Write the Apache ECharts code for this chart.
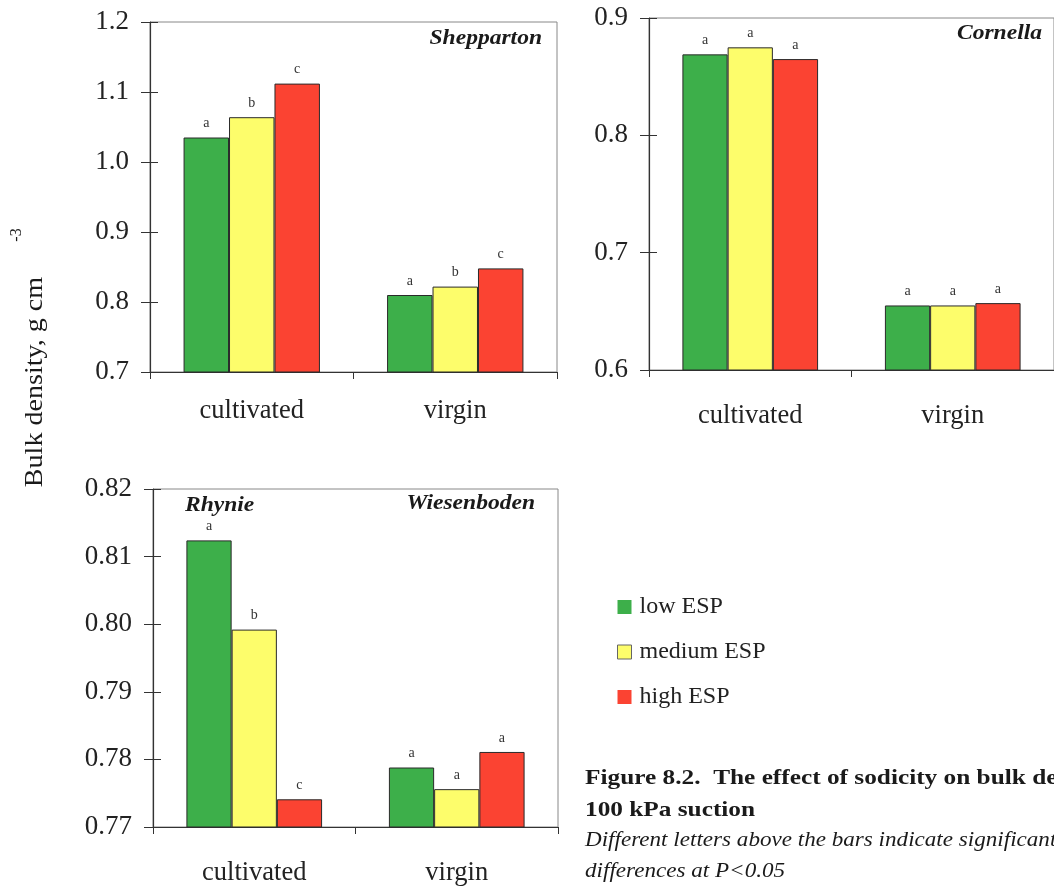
<!DOCTYPE html>
<html>
<head>
<meta charset="utf-8">
<script src="https://cdn.jsdelivr.net/npm/echarts@6/dist/echarts.min.js"></script>
<style>
html,body{margin:0;padding:0;background:#fff;}
#chart{width:1054px;height:890px;}
</style>
</head>
<body>
<div id="chart"></div>
<script>
// ---- data ----
var categories = ['cultivated', 'virgin'];
var seriesNames = ['low ESP', 'medium ESP', 'high ESP'];

var shepLow = [1.035, 0.810];
var shepMed = [1.064, 0.822];
var shepHigh = [1.112, 0.848];
var shepLetters = [['a', 'a'], ['b', 'b'], ['c', 'c']];

var cornLow = [0.869, 0.655];
var cornMed = [0.875, 0.655];
var cornHigh = [0.865, 0.657];
var cornLetters = [['a', 'a'], ['a', 'a'], ['a', 'a']];

var rhyLow = [0.8124, 0.7788];
var rhyMed = [0.7992, 0.7756];
var rhyHigh = [0.7741, 0.7811];
var rhyLetters = [['a', 'a'], ['b', 'a'], ['c', 'a']];

var shepTicks = {min: 0.7, max: 1.2, interval: 0.1, decimals: 1};
var cornTicks = {min: 0.6, max: 0.9, interval: 0.1, decimals: 1};
var rhyTicks = {min: 0.77, max: 0.82, interval: 0.01, decimals: 2};

// ---- styling ----
var SERIF = "'Liberation Serif','Times New Roman',serif";
var colors = ['#3daf4a', '#fdfd6b', '#fb4332'];
var AX = '#333';

var grids = [
  {left: 150, top: 22, width: 407, height: 350},
  {left: 649, top: 18, width: 408, height: 352},
  {left: 153, top: 489, width: 405, height: 338}
];
grids.forEach(function (g) {
  g.show = true; g.borderColor = '#888'; g.borderWidth = 1; g.backgroundColor = 'transparent';
});

var xMargins = [26, 33, 33];
var xAxes = grids.map(function (g, i) {
  return {
    type: 'category', gridIndex: i, data: categories,
    axisLine: {lineStyle: {color: AX, width: 1.2}},
    axisTick: {show: true, length: 7, lineStyle: {color: AX}},
    axisLabel: {fontFamily: SERIF, fontSize: 26.5, color: '#222', margin: xMargins[i]}
  };
});

var yAxes = [];
[shepTicks, cornTicks, rhyTicks].forEach(function (t, i) {
  yAxes.push({
    type: 'value', gridIndex: i, position: 'left', min: t.min, max: t.max, interval: t.interval,
    axisLine: {show: true, lineStyle: {color: AX, width: 1.2}},
    axisTick: {show: true, length: 9, lineStyle: {color: AX}},
    splitLine: {show: false},
    axisLabel: {fontFamily: SERIF, fontSize: 27, color: '#222', margin: 21,
      formatter: function (v) { return v.toFixed(t.decimals); }}
  });
  yAxes.push({
    type: 'value', gridIndex: i, position: 'left', min: t.min, max: t.max, interval: t.interval,
    axisLine: {show: false},
    axisTick: {show: true, inside: true, length: 8, lineStyle: {color: AX}},
    splitLine: {show: false},
    axisLabel: {show: false}
  });
});

function makeSeries(gi, data, letters, si) {
  return {
    type: 'bar', name: seriesNames[si], xAxisIndex: gi, yAxisIndex: gi * 2,
    data: data, barGap: '0%', barCategoryGap: '33%',
    itemStyle: {color: colors[si], borderColor: '#2a2a2a', borderWidth: 1},
    label: {
      show: true, position: 'top', distance: 7,
      fontFamily: SERIF, fontSize: 14, color: '#333',
      formatter: function (p) { return letters[si][p.dataIndex]; }
    }
  };
}

var series = [
  makeSeries(0, shepLow, shepLetters, 0),
  makeSeries(0, shepMed, shepLetters, 1),
  makeSeries(0, shepHigh, shepLetters, 2),
  makeSeries(1, cornLow, cornLetters, 0),
  makeSeries(1, cornMed, cornLetters, 1),
  makeSeries(1, cornHigh, cornLetters, 2),
  makeSeries(2, rhyLow, rhyLetters, 0),
  makeSeries(2, rhyMed, rhyLetters, 1),
  makeSeries(2, rhyHigh, rhyLetters, 2)
];

function txt(x, y, text, style, extra) {
  var o = {type: 'text', x: x, y: y, style: Object.assign({
    text: text, fontFamily: SERIF, fill: '#1a1a1a', verticalAlign: 'middle'
  }, style)};
  return Object.assign(o, extra || {});
}

var titleStyle = {fontSize: 22, fontWeight: 'bold', fontStyle: 'italic'};
var titleScale = {scaleX: 1.07};

var graphics = [
  txt(542, 38, 'Shepparton', Object.assign({align: 'right'}, titleStyle), titleScale),
  txt(1042, 33, 'Cornella', Object.assign({align: 'right'}, titleStyle), titleScale),
  txt(185, 505, 'Rhynie', Object.assign({align: 'left'}, titleStyle), titleScale),
  txt(535, 503, 'Wiesenboden', Object.assign({align: 'right'}, titleStyle), titleScale),
  // y-axis title (rotated)
  txt(35, 382, 'Bulk density, g cm', {fontSize: 26, align: 'center'}, {rotation: Math.PI / 2, scaleX: 1.08}),
  txt(17, 235, '-3', {fontSize: 16, align: 'center'}, {rotation: Math.PI / 2}),
  // caption
  txt(585, 778, 'Figure 8.2.  The effect of sodicity on bulk density at', {fontSize: 22, fontWeight: 'bold', align: 'left'}, {scaleX: 1.15}),
  txt(585, 810, '100 kPa suction', {fontSize: 22, fontWeight: 'bold', align: 'left'}, {scaleX: 1.15}),
  txt(585, 840, 'Different letters above the bars indicate significant', {fontSize: 21, fontStyle: 'italic', align: 'left'}, {scaleX: 1.1}),
  txt(585, 871, 'differences at P<0.05', {fontSize: 21, fontStyle: 'italic', align: 'left'}, {scaleX: 1.1})
];

var option = {
  backgroundColor: '#ffffff',
  animation: false,
  grid: grids,
  xAxis: xAxes,
  yAxis: yAxes,
  legend: {
    orient: 'vertical', left: 612, top: 590,
    itemWidth: 14, itemHeight: 14, itemGap: 21,
    icon: 'rect',
    textStyle: {fontFamily: SERIF, fontSize: 24, color: '#222', lineHeight: 24, padding: [0, 0, 0, 3]},
    data: [
      {name: 'low ESP', itemStyle: {color: colors[0], borderWidth: 0}},
      {name: 'medium ESP', itemStyle: {color: colors[1], borderColor: '#666', borderWidth: 1}},
      {name: 'high ESP', itemStyle: {color: colors[2], borderWidth: 0}}
    ]
  },
  graphic: graphics,
  series: series
};

var chart = echarts.init(document.getElementById('chart'), null, {renderer: 'canvas'});
chart.setOption(option);
</script>
</body>
</html>
